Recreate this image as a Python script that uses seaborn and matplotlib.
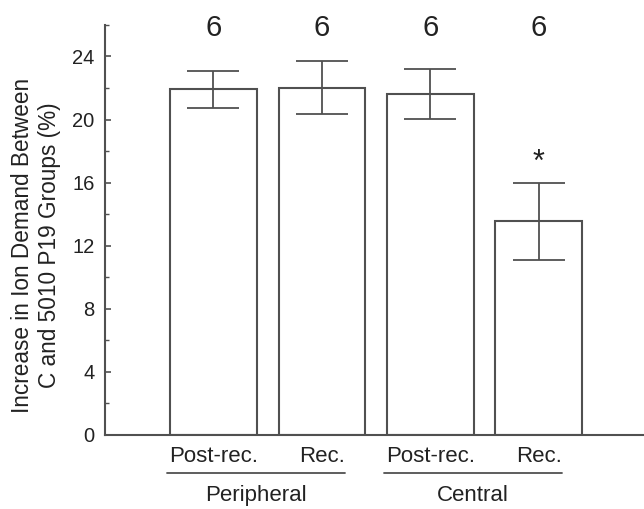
import matplotlib
matplotlib.use("Agg")
import matplotlib.pyplot as plt
import matplotlib.transforms as mtransforms
from matplotlib.ticker import MultipleLocator
import seaborn as sns
import pandas as pd

categories = ["Post-rec.", "Rec.", "Post-rec. ", "Rec. "]
tick_labels = ["Post-rec.", "Rec.", "Post-rec.", "Rec."]
means = [21.93, 22.03, 21.61, 13.54]
errors = [1.17, 1.67, 1.60, 2.44]
n_labels = ["6", "6", "6", "6"]
groups = ["Peripheral", "Central"]
group_members = [[0, 1], [2, 3]]
significant = [False, False, False, True]

sns.set_theme(style="white")
plt.rcParams["font.family"] = ["Liberation Sans", "DejaVu Sans"]

LINE = "#505050"
TEXT = "#222222"

fig = plt.figure(figsize=(6.44, 5.09), dpi=100)
ax = fig.add_axes([0.163, 0.1454, 0.837, 0.8056])

df = pd.DataFrame({"cat": categories, "val": means})
sns.barplot(data=df, x="cat", y="val", ax=ax, color="white", edgecolor=LINE,
            linewidth=1.5, width=0.8, errorbar=None)
ax.errorbar(range(len(means)), means, yerr=errors, fmt="none", ecolor=LINE,
            elinewidth=1.3, capsize=18.5, capthick=1.3)

ax.set_ylim(0, 26)
ax.set_xlim(-1.0, 3.97)
ax.yaxis.set_major_locator(MultipleLocator(4))
ax.yaxis.set_minor_locator(MultipleLocator(2))
ax.set_xticks(range(len(tick_labels)))
ax.set_xticklabels(tick_labels)
ax.set_xlabel("")
ax.set_ylabel("Increase in Ion Demand Between\nC and 5010 P19 Groups (%)",
              fontsize=16.3, color=TEXT, linespacing=1.2)
ax.yaxis.set_label_coords(-0.082, 0.463)

for s in ["top", "right"]:
    ax.spines[s].set_visible(False)
for s in ["left", "bottom"]:
    ax.spines[s].set_color(LINE)
    ax.spines[s].set_linewidth(1.5)

ax.tick_params(axis="y", which="major", direction="in", length=4, width=1.2,
               color=LINE, labelsize=14.5, labelcolor=TEXT, pad=7.5, left=True)
ax.tick_params(axis="y", which="minor", direction="in", length=3, width=1.0,
               color=LINE, left=True)
ax.tick_params(axis="x", which="major", direction="in", length=3, width=1.2,
               color=LINE, labelsize=16, labelcolor=TEXT, pad=8, bottom=True)

for i, t in enumerate(n_labels):
    ax.text(i, 25.8, t, ha="center", va="center", fontsize=21, color=TEXT,
            clip_on=False)
for i, sig in enumerate(significant):
    if sig:
        ax.text(i, means[i] + errors[i] + 1.3, "*", ha="center", va="center",
                fontsize=22, color=TEXT)

trans = mtransforms.blended_transform_factory(ax.transData, fig.transFigure)
for name, mem in zip(groups, group_members):
    x0 = min(mem) - 0.43
    x1 = max(mem) + 0.21
    ax.plot([x0, x1], [0.0707, 0.0707], transform=trans, color=LINE,
            linewidth=1.3, clip_on=False)
    ax.text((x0 + x1) / 2, 0.027, name, transform=trans, ha="center",
            va="center", fontsize=16, color=TEXT)

fig.savefig("out.png", dpi=100)
